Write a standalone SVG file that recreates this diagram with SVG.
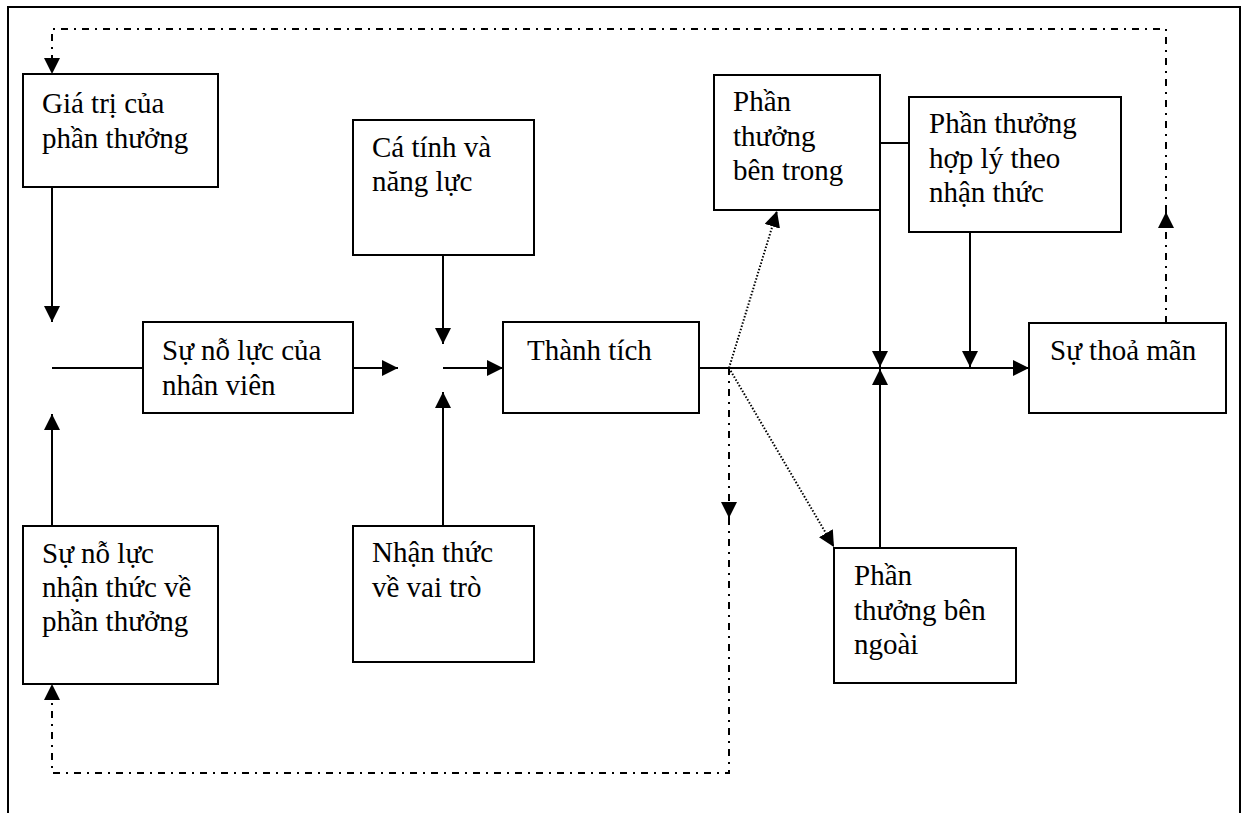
<svg xmlns="http://www.w3.org/2000/svg" width="1245" height="813" viewBox="0 0 1245 813">
  <style>
    .box { fill: #fff; stroke: #000; stroke-width: 2; }
    .lbl { font-family: "Liberation Serif", "Times New Roman", serif; font-size: 29px; fill: #000; }
    .solid { fill: none; stroke: #000; stroke-width: 2; }
    .dashdot { fill: none; stroke: #000; stroke-width: 2; stroke-dasharray: 7 6 2 6; }
    .dotted { fill: none; stroke: #000; stroke-width: 2; stroke-dasharray: 1.5 1.8; }
  </style>
  <defs>
    <marker id="arrow" markerUnits="userSpaceOnUse" markerWidth="16" markerHeight="16" viewBox="0 0 14 14" refX="14" refY="7" orient="auto">
      <path d="M0,0 L14,7 L0,14 Z" fill="#000"/>
    </marker>
  </defs>

  <rect x="0" y="0" width="1245" height="813" fill="#fff"/>
  <!-- page frame -->
  <path d="M8,813 V7 H1240 V813" fill="none" stroke="#000" stroke-width="2"/>

  <g id="connectors">
    <!-- effort inputs -->
    <path class="solid" d="M52,187 V322" marker-end="url(#arrow)"/>
    <path class="solid" d="M52,526 V414" marker-end="url(#arrow)"/>
    <path class="solid" d="M52,368 H143"/>
    <path class="solid" d="M353,368 H398" marker-end="url(#arrow)"/>
    <!-- performance inputs -->
    <path class="solid" d="M443,255 V344" marker-end="url(#arrow)"/>
    <path class="solid" d="M443,526 V392" marker-end="url(#arrow)"/>
    <path class="solid" d="M443,368 H503" marker-end="url(#arrow)"/>
    <!-- performance to satisfaction -->
    <path class="solid" d="M699,368 H1029" marker-end="url(#arrow)"/>
    <path class="solid" d="M909,143 H880 V367" marker-end="url(#arrow)"/>
    <path class="solid" d="M970,232 V367" marker-end="url(#arrow)"/>
    <path class="solid" d="M880,548 V369" marker-end="url(#arrow)"/>
    <!-- rewards from performance -->
    <path class="dotted" d="M729,368 L777,211" marker-end="url(#arrow)"/>
    <path class="dotted" d="M729,368 L834,547" marker-end="url(#arrow)"/>
    <!-- feedback loops -->
    <path class="dashdot" d="M729,368 V518" marker-end="url(#arrow)"/>
    <path class="dashdot" d="M729,518 V773 H52 V684" marker-end="url(#arrow)"/>
    <path class="dashdot" d="M1166,323 V212" marker-end="url(#arrow)"/>
    <path class="dashdot" d="M1166,212 V29 H52 V74" marker-end="url(#arrow)"/>
  </g>

  <g id="gia-tri-phan-thuong">
    <rect class="box" x="23" y="74" width="195" height="113"/>
    <text class="lbl" x="42" y="113">Giá trị của</text>
    <text class="lbl" x="42" y="148">phần thưởng</text>
  </g>

  <g id="no-luc-nhan-thuc">
    <rect class="box" x="23" y="526" width="195" height="158"/>
    <text class="lbl" x="42" y="563">Sự nỗ lực</text>
    <text class="lbl" x="42" y="597">nhận thức về</text>
    <text class="lbl" x="42" y="631">phần thưởng</text>
  </g>

  <g id="no-luc-nhan-vien">
    <rect class="box" x="143" y="322" width="210" height="91"/>
    <text class="lbl" x="162" y="360">Sự nỗ lực của</text>
    <text class="lbl" x="162" y="395">nhân viên</text>
  </g>

  <g id="ca-tinh-nang-luc">
    <rect class="box" x="353" y="120" width="181" height="135"/>
    <text class="lbl" x="372" y="157">Cá tính và</text>
    <text class="lbl" x="372" y="191">năng lực</text>
  </g>

  <g id="nhan-thuc-vai-tro">
    <rect class="box" x="353" y="526" width="181" height="136"/>
    <text class="lbl" x="372" y="562">Nhận thức</text>
    <text class="lbl" x="372" y="597">về vai trò</text>
  </g>

  <g id="thanh-tich">
    <rect class="box" x="503" y="322" width="196" height="91"/>
    <text class="lbl" x="527" y="360">Thành tích</text>
  </g>

  <g id="phan-thuong-ben-trong">
    <rect class="box" x="714" y="75" width="166" height="135"/>
    <text class="lbl" x="733" y="111">Phần</text>
    <text class="lbl" x="733" y="146">thưởng</text>
    <text class="lbl" x="733" y="180">bên trong</text>
  </g>

  <g id="phan-thuong-hop-ly">
    <rect class="box" x="909" y="97" width="212" height="135"/>
    <text class="lbl" x="929" y="133">Phần thưởng</text>
    <text class="lbl" x="929" y="168">hợp lý theo</text>
    <text class="lbl" x="929" y="202">nhận thức</text>
  </g>

  <g id="phan-thuong-ben-ngoai">
    <rect class="box" x="834" y="548" width="182" height="135"/>
    <text class="lbl" x="854" y="585">Phần</text>
    <text class="lbl" x="854" y="620">thưởng bên</text>
    <text class="lbl" x="854" y="654">ngoài</text>
  </g>

  <g id="su-thoa-man">
    <rect class="box" x="1029" y="323" width="197" height="90"/>
    <text class="lbl" x="1050" y="360">Sự thoả mãn</text>
  </g>
</svg>
